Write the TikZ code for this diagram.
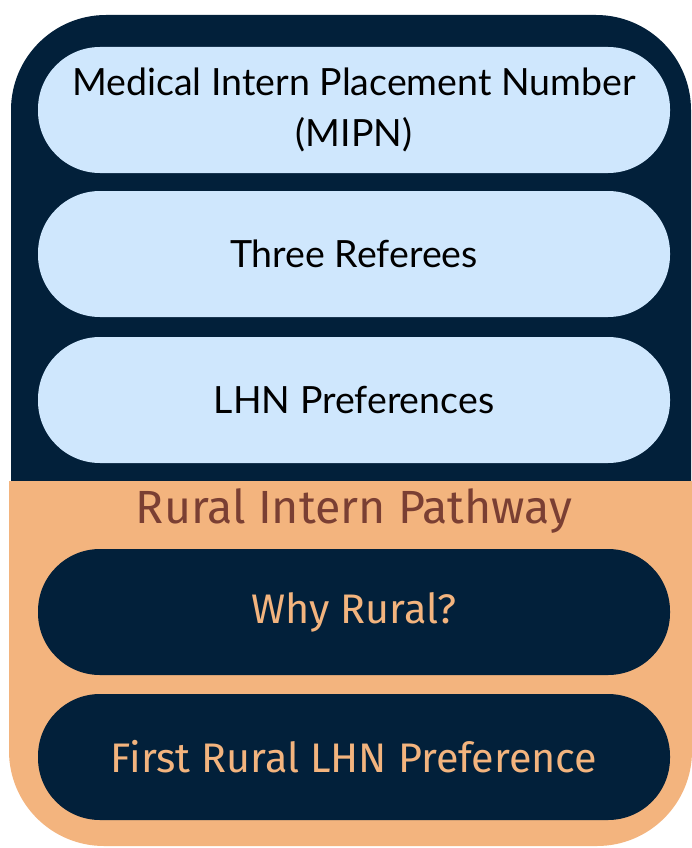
\documentclass[tikz,border=0pt]{standalone}
\usepackage{fontspec}
\setmainfont{Lato}
\newfontfamily\titlefont{Fira Sans}
\definecolor{navy}{HTML}{02203A}
\definecolor{lightblue}{HTML}{CFE7FD}
\definecolor{peach}{HTML}{F3B47E}
\definecolor{brown}{HTML}{7A3F33}
\begin{document}
\begin{tikzpicture}[x=1pt,y=-1pt,
  pill/.style={rectangle, rounded corners=62, minimum width=632, minimum height=126, inner sep=0, align=center},
  lightpill/.style={pill, fill=lightblue, text=black, font=\fontsize{37.5}{51}\selectfont},
  darkpill/.style={pill, fill=navy, text=peach, font=\titlefont\fontsize{41.3}{50}\selectfont}]
\useasboundingbox (0,0) rectangle (692,848);
\fill[white] (0,0) rectangle (692,848);
% top navy block
\fill[navy] (11,481) [rounded corners=95] -- (11,15) -- (691,15) [sharp corners] -- (691,481) -- cycle;
% bottom peach block
\fill[peach] (9,481) -- (692,481) [rounded corners=95] -- (692,846) -- (9,846) [sharp corners] -- cycle;
\node[lightpill] (mipn) at (354,110) {Medical Intern Placement Number\\(MIPN)};
\node[lightpill] (ref) at (354,254) {Three Referees};
\node[lightpill] (lhn) at (354,400) {LHN Preferences};
\node[text=brown, font=\titlefont\fontsize{46.5}{54}\selectfont] (title) at (354,511) {Rural Intern Pathway};
\node[darkpill] (why) at (354,612) {Why Rural?};
\node[darkpill] (first) at (354,757) {First Rural LHN Preference};
\end{tikzpicture}
\end{document}
